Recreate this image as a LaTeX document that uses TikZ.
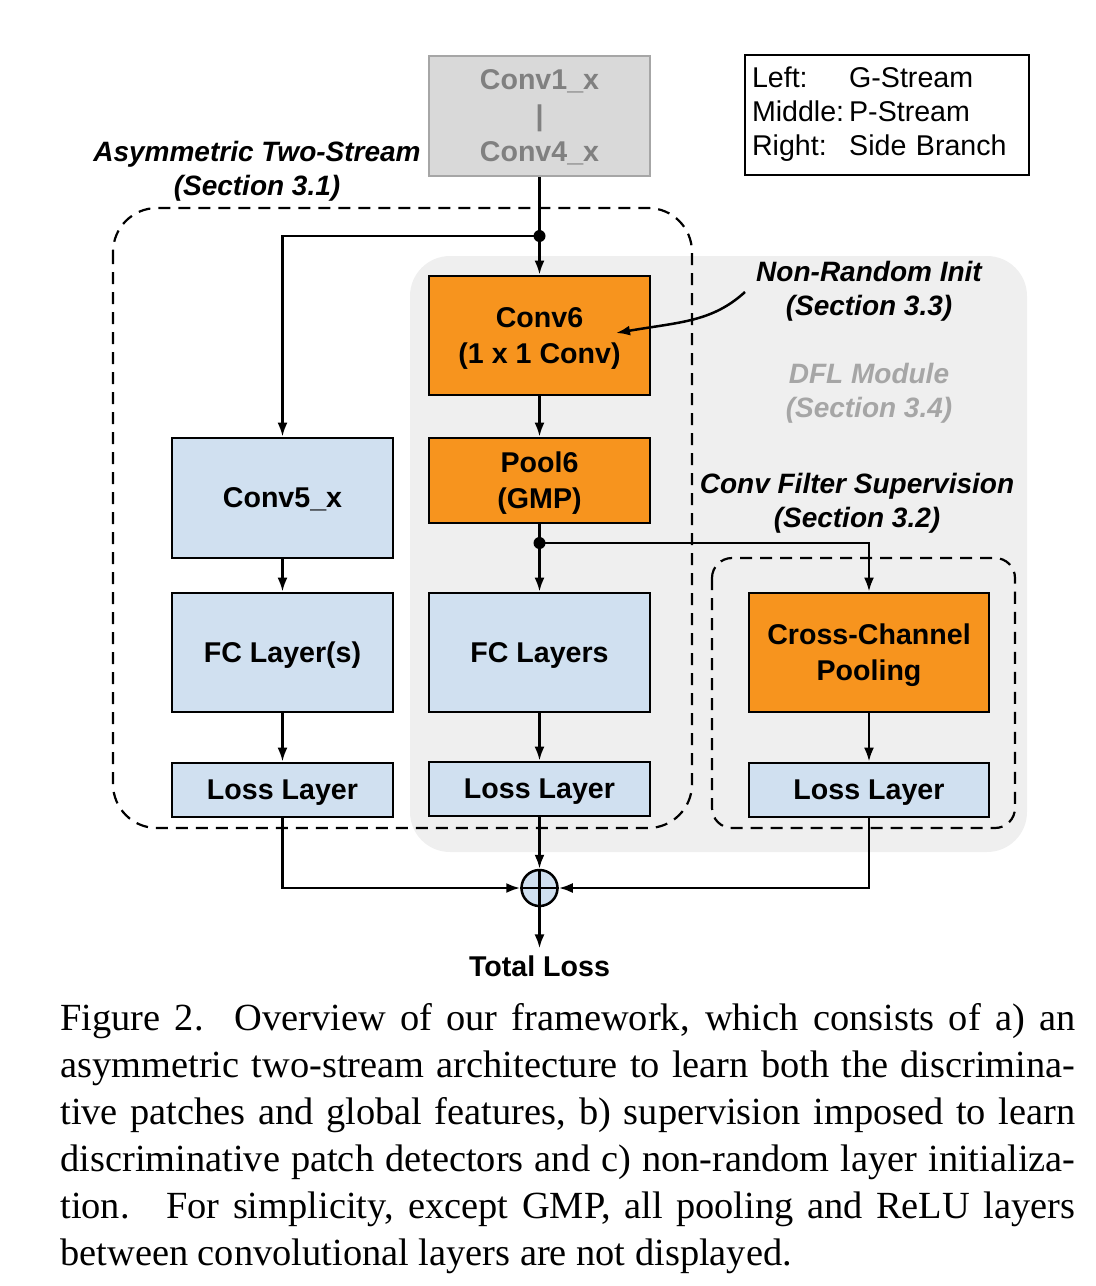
\documentclass[tikz,border=0pt]{standalone}
\usepackage{fontspec}
\setmainfont{Liberation Sans}
\newfontfamily\capfont{Liberation Serif}
\usetikzlibrary{arrows.meta, calc}
\definecolor{dflorange}{RGB}{247,148,30}
\definecolor{layerblue}{RGB}{208,224,240}
\definecolor{dflgray}{RGB}{239,239,239}
\definecolor{basegray}{RGB}{217,217,217}
\definecolor{baseedge}{RGB}{166,166,166}
\definecolor{basetext}{RGB}{128,128,128}

\tikzset{
    layer/.style={draw, line width=1.4pt, align=center, inner sep=0pt, text depth=0pt,
        font=\fontsize{14.3}{18}\selectfont\bfseries},
    orangelayer/.style={layer, fill=dflorange},
    bluelayer/.style={layer, fill=layerblue},
    flow/.style={line width=1.25pt, -{Latex[length=7pt,width=5pt]}},
    wire/.style={line width=1.25pt},
    note/.style={align=center, font=\fontsize{14}{17}\selectfont\bfseries\itshape},
    region/.style={dash pattern=on 6pt off 4pt, line width=1.1pt},
}

\begin{document}
\begin{tikzpicture}[x=0.5pt, y=-0.5pt]
    \useasboundingbox (0,0) rectangle (1096,1286);

    % DFL module background
    \fill[dflgray, rounded corners=20pt] (410,256) rectangle (1027,852);

    % Dashed regions
    \draw[region, rounded corners=22pt] (113,208) rectangle (692,828);
    \draw[region, rounded corners=10pt] (712,558) rectangle (1015,828);

    % Shared layers
    \node[layer, draw=baseedge, fill=basegray, text=basetext,
        minimum width=110.5pt, minimum height=60pt] (conv14) at (539.5,116)
        {Conv1\_x\\|\\Conv4\_x};

    % P-Stream
    \node[orangelayer, minimum width=110.5pt, minimum height=59.5pt] (conv6) at (539.5,335.5) {Conv6\\(1 x 1 Conv)};
    \node[orangelayer, minimum width=110.5pt, minimum height=42.5pt] (pool6) at (539.5,480.5) {Pool6\\(GMP)};
    \node[bluelayer, minimum width=110.5pt, minimum height=59.5pt] (fcp) at (539.5,652.5) {FC Layers};
    \node[bluelayer, minimum width=110.5pt, minimum height=27pt] (lossp) at (539.5,789) {Loss Layer};

    % G-Stream
    \node[bluelayer, minimum width=110.5pt, minimum height=60pt] (conv5) at (282.5,498) {Conv5\_x};
    \node[bluelayer, minimum width=110.5pt, minimum height=59.5pt] (fcg) at (282.5,652.5) {FC Layer(s)};
    \node[bluelayer, minimum width=110.5pt, minimum height=27pt] (lossg) at (282.5,790) {Loss Layer};

    % Side branch
    \node[orangelayer, minimum width=120pt, minimum height=59.5pt] (ccp) at (869,652.5) {Cross-Channel\\Pooling};
    \node[bluelayer, minimum width=120pt, minimum height=27pt] (losss) at (869,790) {Loss Layer};

    % Sum and output
    \node[circle, draw, line width=1.25pt, fill=layerblue, minimum size=18pt, inner sep=0pt] (sum) at (539.5,888) {};
    \draw[wire] (sum.north) -- (sum.south);
    \draw[wire] (sum.west) -- (sum.east);
    \node[font=\fontsize{14.3}{17}\selectfont\bfseries] (total) at (539.5,966) {Total Loss};

    % Labels
    \node[note] (twostream) at (257,171) {Asymmetric Two-Stream\\(Section 3.1)};
    \node[note] (nrinit) at (869,291) {Non-Random Init\\(Section 3.3)};
    \node[note, text=baseedge] (dfl) at (869,393) {DFL Module\\(Section 3.4)};
    \node[note] (cfs) at (857,503) {Conv Filter Supervision\\(Section 3.2)};

    % Legend
    \node[draw, line width=0.6pt, minimum width=142pt, minimum height=60pt,
        text width=135pt, inner xsep=3.5pt, align=left,
        font=\fontsize{14.3}{17}\selectfont] (legend) at (887,115)
        {\begin{tabular}{@{}l@{\hspace{2.5pt}}l@{}}
            Left: & G-Stream\\
            Middle: & P-Stream\\
            Right: & Side Branch
        \end{tabular}};

    % Connections
    \coordinate (split1) at (539.5,236);
    \coordinate (split2) at (539.5,543);
    \fill (split1) circle (3pt);
    \fill (split2) circle (3pt);
    \draw[wire] (conv14.south) -- (split1);
    \draw[flow] (split1) -- (conv6.north);
    \draw[flow] (split1) -| (conv5.north);
    \draw[flow] (conv6) -- (pool6);
    \draw[wire] (pool6.south) -- (split2);
    \draw[flow] (split2) -- (fcp.north);
    \draw[flow] (split2) -| (ccp.north);
    \draw[flow] (conv5) -- (fcg);
    \draw[flow] (fcg) -- (lossg);
    \draw[flow] (fcp) -- (lossp);
    \draw[flow] (ccp) -- (losss);
    \draw[flow] (lossg.south) |- (sum.west);
    \draw[flow] (losss.south) |- (sum.east);
    \draw[flow] (lossp) -- (sum);
    \draw[flow] (sum.south) -- (total.north);

    % Non-random init pointer
    \coordinate (nrstart) at (745,292);
    \coordinate (nrend) at (616,333);
    \draw[flow] (nrstart) .. controls (712,322) and (680,322) .. (nrend);

    % Caption
    \node[anchor=base west, text width=507.5pt, align=justify, inner sep=0pt,
        font=\capfont\fontsize{19.2}{23.5}\selectfont] (caption) at (60,1030)
        {Figure 2.\hspace{0.8em}Overview of our framework, which consists of a) an\linebreak
        asymmetric two-stream architecture to learn both the discrimina-\linebreak
        tive patches and global features, b) supervision imposed to learn\linebreak
        discriminative patch detectors and c) non-random layer initializa-\linebreak
        tion.\hspace{0.3em} For simplicity, except GMP, all pooling and ReLU layers\linebreak
        between convolutional layers are not displayed.};
\end{tikzpicture}
\end{document}
